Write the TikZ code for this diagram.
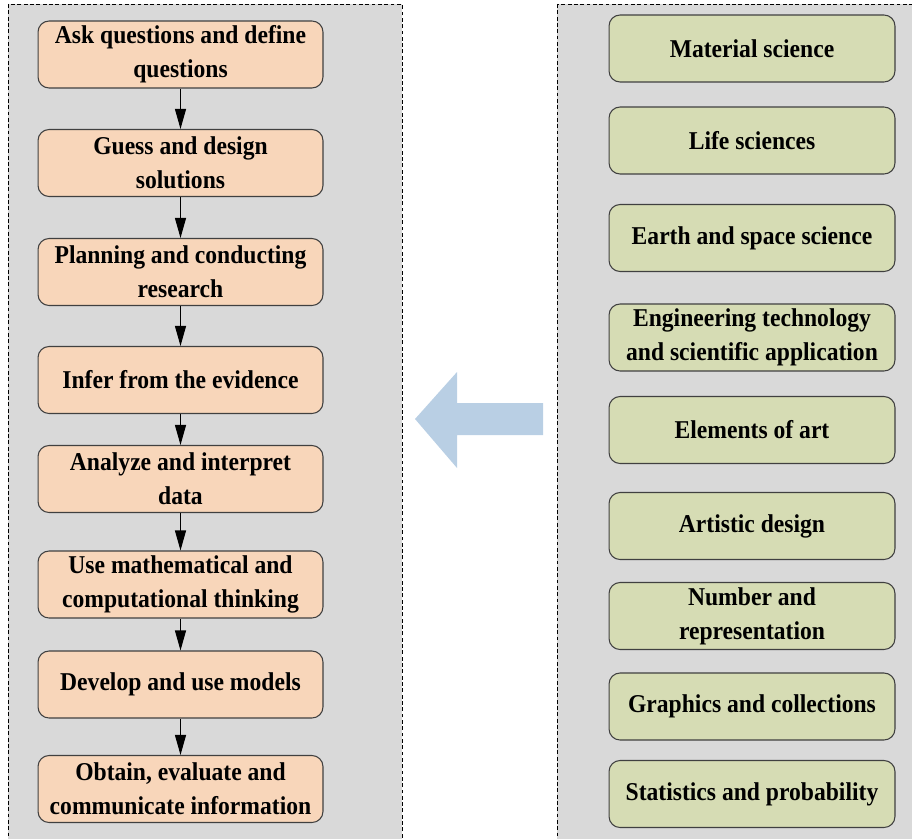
\documentclass[tikz,border=0pt]{standalone}
\usepackage{fontspec}
\setmainfont{Liberation Serif}[FakeStretch=0.92]
\usetikzlibrary{arrows.meta}

\definecolor{panelgray}{RGB}{217,217,217}
\definecolor{stepfill}{RGB}{248,214,186}
\definecolor{topicfill}{RGB}{214,220,180}
\definecolor{bigarrow}{RGB}{185,207,228}
\definecolor{boxline}{RGB}{64,64,64}

\tikzset{
	panel/.style={draw=black, line width=0.5pt, dash pattern=on 2.2pt off 1.4pt, fill=panelgray},
	stepbox/.style={draw=boxline, line width=0.6pt, rounded corners=0.22cm, fill=stepfill,
		minimum width=5.7cm, minimum height=1.34cm, inner sep=0pt, align=center,
		font=\fontsize{14.6}{19.4}\selectfont\bfseries},
	topicbox/.style={stepbox, fill=topicfill, minimum width=5.72cm},
	flow/.style={line width=0.6pt, -{Triangle[length=0.4cm,width=0.22cm]}}
}

\begin{document}
\begin{tikzpicture}[x=0.02cm, y=-0.02cm]
	\clip (0,0) rectangle (912,838);
	\draw[panel] (8,4) rectangle (402,850);
	\draw[panel] (557,4) rectangle (920,850);

	% practices
	\node[stepbox] (s1) at (180.5,54.5) {Ask questions and define\\questions};
	\node[stepbox] (s2) at (180.5,163) {Guess and design\\solutions};
	\node[stepbox] (s3) at (180.5,272) {Planning and conducting\\research};
	\node[stepbox] (s4) at (180.5,380) {Infer from the evidence};
	\node[stepbox] (s5) at (180.5,479) {Analyze and interpret\\data};
	\node[stepbox] (s6) at (180.5,584.5) {Use mathematical and\\computational thinking};
	\node[stepbox] (s7) at (180.5,684.5) {Develop and use models};
	\node[stepbox] (s8) at (180.5,789) {Obtain, evaluate and\\communicate information};

	% topics
	\node[topicbox] (t1) at (752,48.5) {Material science};
	\node[topicbox] (t2) at (752,140.5) {Life sciences};
	\node[topicbox] (t3) at (752,238) {Earth and space science};
	\node[topicbox] (t4) at (752,337.5) {Engineering technology\\and scientific application};
	\node[topicbox] (t5) at (752,430) {Elements of art};
	\node[topicbox] (t6) at (752,526) {Artistic design};
	\node[topicbox] (t7) at (752,616) {Number and\\representation};
	\node[topicbox] (t8) at (752,706.5) {Graphics and collections};
	\node[topicbox] (t9) at (752,794) {Statistics and probability};

	\foreach \a/\b in {s1/s2,s2/s3,s3/s4,s4/s5,s5/s6,s6/s7,s7/s8}
		\draw[flow] (\a) -- (\b);

	% big arrow
	\fill[bigarrow] (415,419) -- (457,372) -- (457,403) -- (543,403) -- (543,435)
		-- (457,435) -- (457,468) -- cycle;
\end{tikzpicture}
\end{document}
